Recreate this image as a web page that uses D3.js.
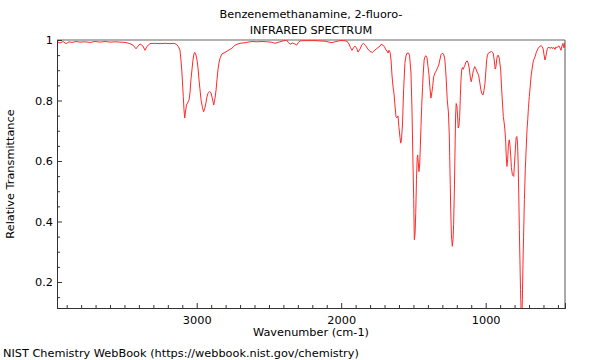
<!DOCTYPE html>
<html>
<head>
<meta charset="utf-8">
<script src="https://cdn.jsdelivr.net/npm/d3@7"></script>
<style>
body { margin: 0; background: #fff; }
text { font-family: "DejaVu Sans", sans-serif; fill: #000; }
</style>
</head>
<body>
<div id="chart"></div>
<script>
var titleLines = ["Benzenemethanamine, 2-fluoro-", "INFRARED SPECTRUM"]
var xTitle = "Wavenumber (cm-1)"
var yTitle = "Relative Transmittance"
var footer = "NIST Chemistry WebBook (https://webbook.nist.gov/chemistry)"

var xMajorTicks = [3000, 2000, 1000]
var yMajorTicks = [0.2, 0.4, 0.6, 0.8, 1]

// wavenumber (cm-1)
var wavenumber = [
  3966, 3946, 3925, 3904, 3884, 3863, 3835, 3808, 3773, 3738, 3704, 3669, 3635, 3600, 3565, 3531,
  3496, 3462, 3441, 3420, 3406, 3392, 3372, 3358, 3344, 3323, 3289, 3254, 3219, 3185, 3157, 3138,
  3126, 3116, 3109, 3102, 3093, 3088, 3083, 3078, 3071, 3064, 3053, 3046, 3040, 3033, 3026, 3019,
  3014, 3007, 2998, 2991, 2984, 2977, 2970, 2960, 2952, 2943, 2936, 2929, 2922, 2911, 2901, 2891,
  2882, 2873, 2866, 2860, 2853, 2846, 2839, 2825, 2811, 2797, 2783, 2770, 2756, 2735, 2714, 2700,
  2666, 2645, 2617, 2583, 2548, 2514, 2486, 2458, 2431, 2403, 2377, 2368, 2354, 2337, 2320, 2308,
  2296, 2285, 2251, 2216, 2181, 2147, 2112, 2085, 2064, 2036, 2008, 1981, 1960, 1946, 1936, 1925,
  1915, 1905, 1894, 1884, 1870, 1856, 1846, 1832, 1815, 1801, 1784, 1766, 1745, 1731, 1723, 1711,
  1700, 1690, 1683, 1676, 1669, 1662, 1655, 1648, 1642, 1635, 1628, 1621, 1614, 1607, 1600, 1593,
  1588, 1583, 1576, 1568, 1559, 1552, 1545, 1534, 1527, 1517, 1510, 1503, 1498, 1494, 1489, 1484,
  1479, 1474, 1471, 1466, 1462, 1457, 1453, 1448, 1443, 1437, 1432, 1426, 1420, 1413, 1406, 1399,
  1392, 1386, 1379, 1372, 1367, 1360, 1351, 1342, 1334, 1325, 1316, 1309, 1301, 1292, 1284, 1278,
  1273, 1266, 1258, 1252, 1249, 1245, 1242, 1237, 1231, 1226, 1222, 1216, 1211, 1208, 1204, 1199,
  1195, 1190, 1185, 1180, 1175, 1171, 1166, 1161, 1155, 1149, 1143, 1137, 1128, 1121, 1114, 1107,
  1100, 1093, 1086, 1076, 1067, 1059, 1049, 1040, 1033, 1026, 1019, 1012, 1005, 998, 993, 988,
  982, 970, 959, 948, 941, 934, 929, 924, 919, 913, 906, 896, 891, 885, 878, 872,
  867, 862, 858, 853, 848, 843, 837, 832, 827, 822, 815, 806, 801, 795, 789, 784,
  779, 775, 771, 767, 763, 759, 754, 750, 746, 742, 738, 732, 726, 720, 714, 709,
  704, 698, 691, 685, 676, 670, 659, 649, 636, 624, 616, 609, 602, 597, 590, 584,
  578, 573, 562, 552, 545, 538, 528, 520, 514, 507, 500, 493, 486, 479, 472, 465,
  458, 451
]

// relative transmittance, same order
var transmittance = [
  0.995, 0.990, 0.995, 0.988, 0.994, 0.992, 0.995, 0.993, 0.994, 0.992, 0.995, 0.993, 0.995, 0.993, 0.994, 0.993,
  0.992, 0.988, 0.983, 0.971, 0.980, 0.987, 0.980, 0.966, 0.979, 0.988, 0.989, 0.988, 0.989, 0.988, 0.989, 0.985,
  0.977, 0.967, 0.934, 0.891, 0.813, 0.769, 0.742, 0.762, 0.785, 0.791, 0.802, 0.828, 0.868, 0.901, 0.934, 0.954,
  0.959, 0.954, 0.934, 0.908, 0.868, 0.835, 0.802, 0.776, 0.763, 0.776, 0.792, 0.812, 0.824, 0.830, 0.825, 0.805,
  0.785, 0.809, 0.835, 0.868, 0.901, 0.924, 0.939, 0.954, 0.957, 0.961, 0.965, 0.969, 0.973, 0.983, 0.987, 0.989,
  0.991, 0.993, 0.995, 0.994, 0.995, 0.994, 0.993, 0.989, 0.993, 0.997, 1.000, 0.993, 0.986, 0.990, 0.987, 0.983,
  0.992, 0.997, 0.998, 0.998, 0.998, 0.997, 0.996, 0.993, 0.991, 0.995, 0.998, 0.998, 0.996, 0.987, 0.975, 0.966,
  0.974, 0.980, 0.974, 0.960, 0.970, 0.985, 0.989, 0.982, 0.970, 0.962, 0.959, 0.967, 0.975, 0.980, 0.986, 0.983,
  0.977, 0.967, 0.964, 0.957, 0.966, 0.960, 0.934, 0.881, 0.848, 0.825, 0.785, 0.747, 0.743, 0.749, 0.710, 0.677,
  0.659, 0.670, 0.719, 0.835, 0.923, 0.947, 0.956, 0.957, 0.950, 0.891, 0.769, 0.587, 0.472, 0.340, 0.356, 0.429,
  0.538, 0.611, 0.620, 0.594, 0.565, 0.587, 0.637, 0.710, 0.780, 0.842, 0.891, 0.934, 0.945, 0.948, 0.941, 0.912,
  0.884, 0.842, 0.808, 0.828, 0.846, 0.878, 0.891, 0.898, 0.907, 0.917, 0.937, 0.952, 0.956, 0.954, 0.940, 0.908,
  0.868, 0.802, 0.762, 0.686, 0.615, 0.521, 0.439, 0.356, 0.318, 0.340, 0.389, 0.521, 0.670, 0.752, 0.790, 0.782,
  0.752, 0.709, 0.716, 0.748, 0.818, 0.868, 0.901, 0.909, 0.903, 0.911, 0.917, 0.927, 0.931, 0.924, 0.908, 0.878,
  0.862, 0.878, 0.898, 0.912, 0.904, 0.894, 0.884, 0.857, 0.835, 0.822, 0.818, 0.832, 0.857, 0.901, 0.934, 0.950,
  0.956, 0.960, 0.962, 0.957, 0.934, 0.904, 0.911, 0.934, 0.947, 0.950, 0.940, 0.901, 0.851, 0.802, 0.747, 0.726,
  0.703, 0.670, 0.620, 0.582, 0.604, 0.650, 0.670, 0.653, 0.620, 0.578, 0.554, 0.549, 0.587, 0.637, 0.677, 0.681,
  0.653, 0.587, 0.488, 0.373, 0.274, 0.175, 0.092, 0.076, 0.142, 0.257, 0.347, 0.472, 0.571, 0.637, 0.703, 0.736,
  0.776, 0.813, 0.851, 0.884, 0.914, 0.931, 0.944, 0.960, 0.973, 0.980, 0.981, 0.978, 0.970, 0.954, 0.934, 0.944,
  0.960, 0.973, 0.976, 0.972, 0.977, 0.972, 0.975, 0.969, 0.977, 0.975, 0.978, 0.981, 0.974, 0.966, 0.980, 0.989,
  0.974, 0.992
]

var svgWidth = 600
var svgHeight = 360
var margin = {top: 40, right: 35, bottom: 52, left: 57}
var chartWidth = svgWidth - margin.left - margin.right
var chartHeight = svgHeight - margin.top - margin.bottom
var fontSize = 11.3

var svg = d3.select("#chart")
  .append("svg")
  .attr("width", svgWidth)
  .attr("height", svgHeight)

var chartGroup = svg.append("g")
  .attr("transform", `translate(${margin.left},${margin.top})`)

var xScale = d3.scaleLinear().domain([3967, 451]).range([0, chartWidth])
var yScale = d3.scaleLinear().domain([0.114, 1]).range([chartHeight, 0])

var spectrum = wavenumber.map((w, i) => ({w: w, t: transmittance[i]}))

chartGroup.append("clipPath").attr("id", "clip")
  .append("rect").attr("width", chartWidth).attr("height", chartHeight)

// frame: grey top, dark right
chartGroup.append("line")
  .attr("x1", 0).attr("x2", chartWidth).attr("y1", 0).attr("y2", 0)
  .attr("stroke", "#999").attr("stroke-width", 1.5)
chartGroup.append("line")
  .attr("x1", chartWidth).attr("x2", chartWidth).attr("y1", 0).attr("y2", chartHeight)
  .attr("stroke", "#555").attr("stroke-width", 1)

var line = d3.line().x(d => xScale(d.w)).y(d => yScale(d.t))
chartGroup.append("path")
  .datum(spectrum)
  .attr("clip-path", "url(#clip)")
  .attr("fill", "none")
  .attr("stroke", "#ff2a2a")
  .attr("stroke-width", 1)
  .attr("d", line)

// minor ticks
var xMinor = d3.range(500, 3967, 100).filter(v => xMajorTicks.indexOf(v) < 0)
var yMinor = d3.range(0.15, 1.0, 0.05).map(v => +v.toFixed(2)).filter(v => yMajorTicks.indexOf(v) < 0)

var xAxis = chartGroup.append("g")
  .attr("transform", `translate(0,${chartHeight})`)
xAxis.append("g").call(d3.axisBottom(xScale).tickValues(xMinor).tickSize(-3).tickFormat(""))
xAxis.append("g").call(d3.axisBottom(xScale).tickValues(xMajorTicks).tickSize(-5).tickPadding(8).tickFormat(d3.format("d")))

var yAxis = chartGroup.append("g")
yAxis.append("g").call(d3.axisLeft(yScale).tickValues(yMinor).tickSize(-3).tickFormat(""))
yAxis.append("g").call(d3.axisLeft(yScale).tickValues(yMajorTicks).tickSize(-5).tickPadding(4).tickFormat(d => d == 1 ? "1" : d3.format(".1f")(d)))

svg.selectAll(".domain").attr("stroke", "#333")
svg.selectAll(".tick line").attr("stroke", "#333")
svg.selectAll(".tick text").attr("font-size", fontSize).attr("font-family", "DejaVu Sans").attr("fill", "#000")

// titles
svg.selectAll(".title")
  .data(titleLines)
  .enter()
  .append("text")
  .attr("x", margin.left + chartWidth / 2)
  .attr("y", (d, i) => 18 + i * 16)
  .attr("text-anchor", "middle")
  .attr("font-size", fontSize)
  .text(d => d)

svg.append("text")
  .attr("x", margin.left + chartWidth / 2)
  .attr("y", 336)
  .attr("text-anchor", "middle")
  .attr("font-size", fontSize)
  .text(xTitle)

svg.append("text")
  .attr("transform", `translate(14,${margin.top + chartHeight / 2}) rotate(-90)`)
  .attr("text-anchor", "middle")
  .attr("font-size", fontSize)
  .text(yTitle)

svg.append("text")
  .attr("x", 3)
  .attr("y", 357)
  .attr("font-size", fontSize)
  .text(footer)
</script>
</body>
</html>
